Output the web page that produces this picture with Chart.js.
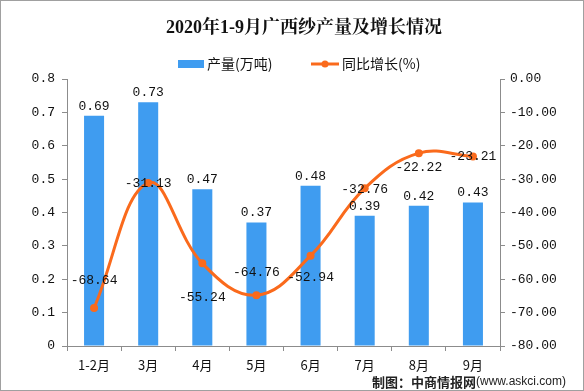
<!DOCTYPE html>
<html><head><meta charset="utf-8">
<script src="https://cdn.jsdelivr.net/npm/chart.js@4"></script>
<style>html,body{margin:0;padding:0;background:#fff}#wrap{width:584px;height:391px;position:relative}</style>
</head><body><div id="wrap"><canvas id="c" width="584" height="391"></canvas></div>
<script>
const titleText = '2020年1-9月广西纱产量及增长情况';
const categories = ['1-2月','3月','4月','5月','6月','7月','8月','9月'];
const output = [0.69,0.73,0.47,0.37,0.48,0.39,0.42,0.43];
const growth = [-68.64,-31.13,-55.24,-64.76,-52.94,-32.76,-22.22,-23.21];
const leftTicks = [0,0.1,0.2,0.3,0.4,0.5,0.6,0.7,0.8];
const rightTicks = [-80,-70,-60,-50,-40,-30,-20,-10,0];
const seriesNames = ['产量(万吨)','同比增长(%)'];
const footerText = '制图：中商情报网';
const footerUrl = '(www.askci.com)';
// label vertical offsets (style)
const growthLabelDy = [-28,1,34,-23,22,1,14,0];

const BLUE = '#3F9CF0', ORANGE = '#FA6A1C', AXIS = '#8c8c8c';
const numFont = '13px "Liberation Mono", "DejaVu Sans Mono", monospace';
const cjk = '"Noto Sans CJK SC", sans-serif';

const deco = {
  id: 'deco',
  afterDraw(chart) {
    const ctx = chart.ctx;
    ctx.save();
    ctx.strokeStyle = '#a0a0a0'; ctx.lineWidth = 1;
    ctx.strokeRect(0.5, 0.5, 583, 390);
    ctx.fillStyle = '#111';
    ctx.font = 'bold 18px "Liberation Serif", "Noto Serif CJK SC", ' + cjk;
    ctx.textAlign = 'center'; ctx.textBaseline = 'middle';
    ctx.fillText(titleText, 304, 28);
    ctx.fillStyle = BLUE; ctx.fillRect(178, 60, 26, 8);
    ctx.fillStyle = '#111'; ctx.font = '14px ' + cjk; ctx.textAlign = 'left';
    ctx.fillText(seriesNames[0], 207, 64);
    ctx.strokeStyle = ORANGE; ctx.lineWidth = 3;
    ctx.beginPath(); ctx.moveTo(311, 64); ctx.lineTo(339, 64); ctx.stroke();
    ctx.fillStyle = ORANGE; ctx.beginPath(); ctx.arc(325, 64, 3.5, 0, Math.PI*2); ctx.fill();
    ctx.fillStyle = '#111'; ctx.fillText(seriesNames[1], 342, 64);
    ctx.font = numFont; ctx.textAlign = 'center'; ctx.textBaseline = 'bottom';
    chart.getDatasetMeta(1).data.forEach((el, i) => {
      ctx.fillText(output[i].toFixed(2), el.x, el.y - 3);
    });
    ctx.textBaseline = 'middle';
    chart.getDatasetMeta(0).data.forEach((el, i) => {
      ctx.fillText(growth[i].toFixed(2), el.x, el.y + growthLabelDy[i]);
    });
    ctx.textAlign = 'left';
    ctx.font = 'bold 13px ' + cjk; ctx.fillStyle = '#222';
    ctx.fillText(footerText, 372, 382);
    const w = ctx.measureText(footerText).width;
    ctx.font = '12px "Liberation Sans", Arial, sans-serif';
    ctx.fillText(footerUrl, 372 + w, 382);
    ctx.restore();
  }
};

new Chart(document.getElementById('c'), {
  data: {
    labels: categories,
    datasets: [
      { type: 'line', label: seriesNames[1], data: growth, yAxisID: 'y2',
        borderColor: ORANGE, backgroundColor: ORANGE, borderWidth: 3,
        pointRadius: 4, pointBackgroundColor: ORANGE, pointBorderWidth: 0,
        tension: 0.4, order: 0 },
      { type: 'bar', label: seriesNames[0], data: output, yAxisID: 'y',
        backgroundColor: BLUE, barPercentage: 0.37, categoryPercentage: 1, order: 1 }
    ]
  },
  options: {
    responsive: false, animation: false, devicePixelRatio: 1,
    layout: { padding: { top: 79, left: 0, right: 0, bottom: 0 } },
    plugins: { legend: { display: false }, title: { display: false }, tooltip: { enabled: false } },
    scales: {
      x: {
        offset: true,
        border: { display: true, color: AXIS },
        grid: { display: true, drawOnChartArea: false, drawTicks: true, tickLength: 5, color: AXIS, offset: true },
        ticks: { color: '#111', font: { family: cjk, size: 13 }, padding: 6, maxRotation: 0 },
        afterFit(s) { s.height = 45; }
      },
      y: {
        position: 'left', min: 0, max: 0.8,
        afterBuildTicks(s) { s.ticks = leftTicks.map(v => ({ value: v })); },
        border: { display: true, color: AXIS },
        grid: { display: true, drawOnChartArea: false, drawTicks: true, tickLength: 5, color: AXIS },
        ticks: { color: '#111', font: { family: '"Liberation Mono", monospace', size: 13 }, padding: 7,
          callback: v => v === 0 ? '0' : v.toFixed(1) },
        afterFit(s) { s.width = 67; }
      },
      y2: {
        position: 'right', min: -80, max: 0,
        afterBuildTicks(s) { s.ticks = rightTicks.map(v => ({ value: v })); },
        border: { display: true, color: AXIS },
        grid: { display: true, drawOnChartArea: false, drawTicks: true, tickLength: 5, color: AXIS },
        ticks: { color: '#111', font: { family: '"Liberation Mono", monospace', size: 13 }, padding: 5,
          callback: v => v.toFixed(2) },
        afterFit(s) { s.width = 84; }
      }
    }
  },
  plugins: [deco]
});
</script></body></html>
